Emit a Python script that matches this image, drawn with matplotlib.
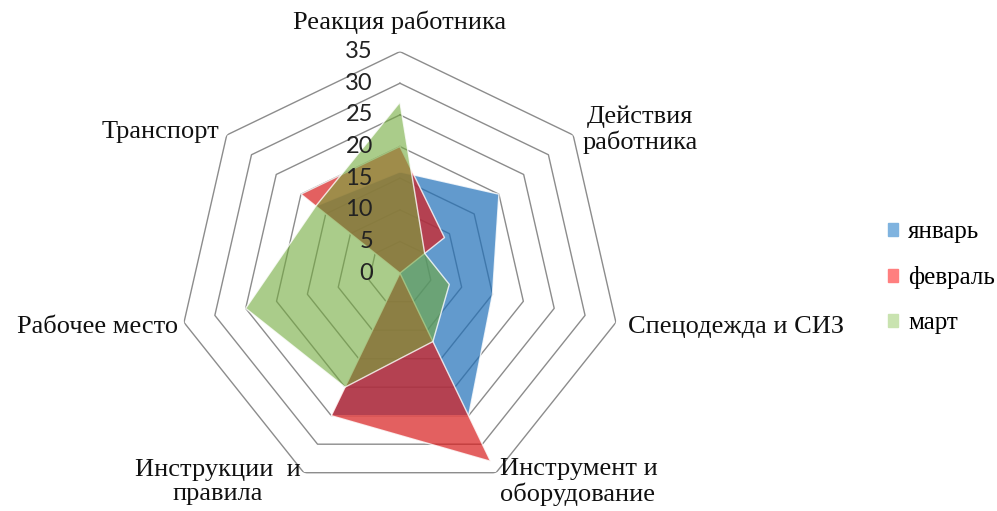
import numpy as np
import matplotlib.pyplot as plt
from matplotlib.patches import Patch

categories = ["Реакция работника", "Действия\nработника", "Спецодежда и СИЗ",
              "Инструмент и\nоборудование", "Инструкции  и\nправила",
              "Рабочее место", "Транспорт"]
series_names = ["январь", "февраль", "март"]
jan = [16, 20, 15, 25, 25, 0, 17]
feb = [20, 9, 0, 33, 25, 0, 20]
mar = [27, 5, 8, 12, 20, 25, 17]
rticks = [0, 5, 10, 15, 20, 25, 30, 35]

colors = ["#1f6fb8", "#d81c1c", "#72aa3c"]
alphas = [0.7, 0.7, 0.6]
legend_colors = ["#7fb3df", "#ff7f7f", "#c9e3b0"]

serif = "Liberation Serif"

fig = plt.figure(figsize=(9.97, 5.11), dpi=100)
ax = fig.add_axes([0.1789, 0.032, 0.4445, 0.867], polar=True)
ax.set_theta_offset(np.pi / 2)
ax.set_theta_direction(-1)

n = len(categories)
angles = np.arange(n) * 2 * np.pi / n
closed = np.append(angles, angles[0])

# heptagon rings
for r in rticks[1:]:
    ax.plot(closed, [r] * (n + 1), color="#8c8c8c", lw=1.0, zorder=1)

for vals, c, a in zip([jan, feb, mar], colors, alphas):
    v = np.append(vals, vals[0])
    ax.fill(closed, v, color=c, alpha=a, lw=0, zorder=2)
    ax.plot(closed, v, color="white", lw=1.0, alpha=0.8, zorder=2)

ax.set_ylim(0, 35)
ax.set_xticks([])
ax.set_yticks([])
ax.grid(False)
ax.spines["polar"].set_visible(False)

# radial tick labels
for r in rticks:
    ax.annotate(str(r), xy=(0, r), xytext=(-27, 0), textcoords="offset pixels",
                ha="right", va="center", fontsize=17, family="Lato",
                color="#222222", zorder=5)

# category labels
offsets = [(0, 29, "center"), (67, 5, "center"), (12, -5, "left"),
           (4, -9, "left"), (-86, -9, "center"), (-6, -5, "right"),
           (-7, 3, "right")]
for ang, lab, (dx, dy, ha) in zip(angles, categories, offsets):
    ax.annotate(lab, xy=(ang, 35), xytext=(dx, dy), textcoords="offset pixels",
                ha=ha, va="center", fontsize=19, family=serif,
                linespacing=1.12, annotation_clip=False, color="#111111")

handles = [Patch(color=c) for c in legend_colors]
fig.legend(handles, series_names, loc="center left",
           bbox_to_anchor=(0.8907, 0.4560), frameon=False, borderpad=0,
           borderaxespad=0, handlelength=0.4, handleheight=0.4,
           handletextpad=0.4, labelspacing=0.92,
           prop={"family": serif, "size": 18})

fig.savefig("out.png", dpi=100)
